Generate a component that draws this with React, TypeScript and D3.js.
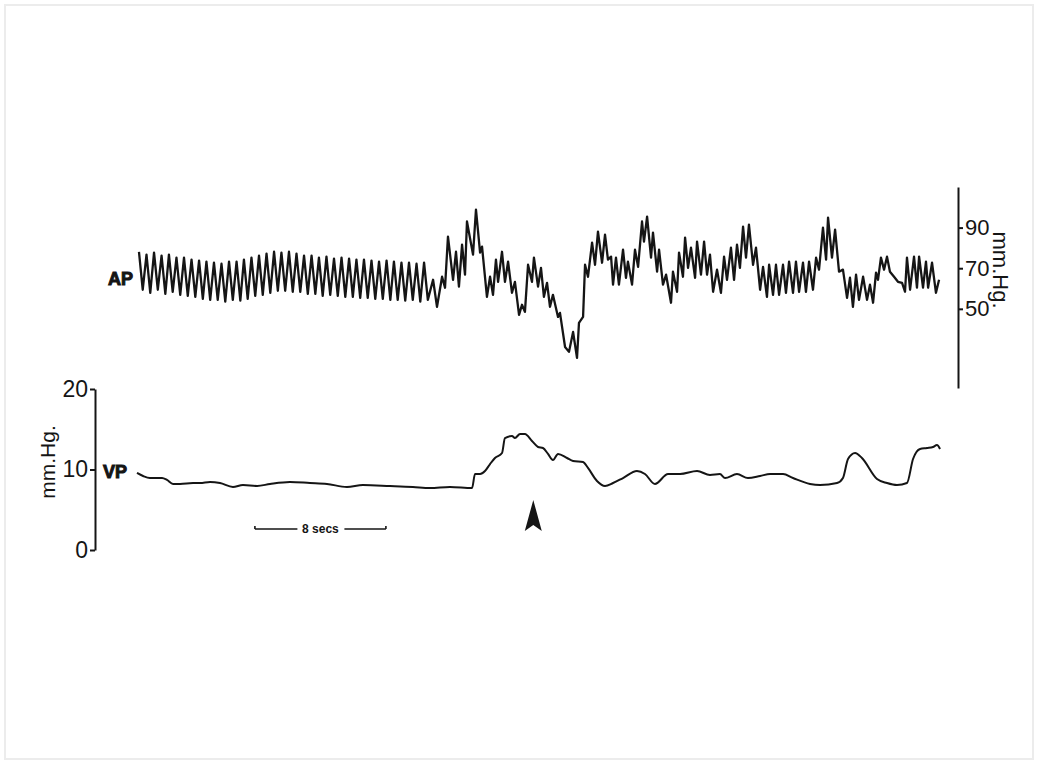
import React, { useRef, useEffect } from 'react';
import * as d3 from 'd3';

// arterial pressure trace, [time (s), mm Hg]
const apTrace: [number, number][] = [
  [0.12, 78.1], [0.35, 59.4], [0.58, 76.7], [0.81, 57.9], [1.04, 77.7], [1.27, 59.4],
  [1.5, 76.2], [1.73, 57.4], [1.95, 76.7], [2.18, 58.4], [2.41, 75.2], [2.64, 56.9],
  [2.87, 75.2], [3.1, 56.4], [3.33, 74.2], [3.56, 55.9], [3.79, 73.7], [4.02, 54.9],
  [4.24, 73.2], [4.47, 54.4], [4.7, 72.7], [4.93, 54.4], [5.16, 72.2], [5.39, 53.5],
  [5.62, 73.2], [5.85, 54.4], [6.08, 73.2], [6.31, 54.0], [6.53, 74.2], [6.76, 54.9],
  [6.99, 75.2], [7.22, 56.4], [7.45, 76.2], [7.68, 56.9], [7.91, 77.2], [8.14, 57.9],
  [8.37, 78.1], [8.6, 58.9], [8.82, 77.7], [9.05, 58.9], [9.28, 78.1], [9.51, 58.4],
  [9.74, 77.2], [9.97, 58.4], [10.2, 76.2], [10.43, 57.4], [10.66, 76.2], [10.89, 57.4],
  [11.11, 75.2], [11.34, 56.4], [11.57, 75.7], [11.8, 56.9], [12.03, 74.7], [12.26, 56.4],
  [12.49, 75.2], [12.72, 55.9], [12.95, 74.7], [13.18, 55.9], [13.4, 74.2], [13.63, 55.4],
  [13.86, 74.2], [14.09, 55.4], [14.32, 73.7], [14.55, 54.9], [14.78, 73.2], [15.01, 54.9],
  [15.24, 73.7], [15.47, 54.4], [15.69, 73.2], [15.92, 54.4], [16.15, 72.7], [16.38, 54.0],
  [16.61, 72.7], [16.84, 54.4], [17.07, 72.2], [17.3, 53.5], [17.53, 72.7], [17.76, 54.4],
  [18.08, 64.3], [18.32, 51.0], [18.63, 65.8], [18.81, 60.4], [18.99, 85.6], [19.3, 64.3],
  [19.48, 78.1], [19.66, 60.9], [19.85, 81.6], [20.03, 66.8], [20.15, 93.0], [20.52, 76.7],
  [20.7, 98.9], [20.95, 77.7], [21.07, 80.6], [21.37, 55.9], [21.56, 65.8], [21.74, 56.9],
  [21.92, 74.2], [22.05, 63.3], [22.29, 78.1], [22.47, 63.3], [22.66, 73.2], [22.9, 57.9],
  [23.08, 63.3], [23.33, 47.0], [23.51, 52.0], [23.69, 48.5], [23.88, 71.7], [24.12, 63.3],
  [24.24, 75.2], [24.49, 60.9], [24.67, 70.2], [24.85, 55.9], [25.04, 62.8], [25.22, 51.0],
  [25.4, 56.9], [25.71, 46.0], [25.83, 48.0], [26.14, 31.2], [26.38, 28.8], [26.63, 38.6],
  [26.87, 25.8], [26.99, 43.1], [27.24, 46.0], [27.36, 71.7], [27.54, 65.8], [27.79, 82.6],
  [27.97, 71.7], [28.15, 88.0], [28.4, 72.7], [28.58, 86.5], [28.76, 74.2], [28.95, 75.7],
  [29.07, 61.9], [29.25, 75.2], [29.43, 61.9], [29.68, 79.1], [29.86, 65.3], [29.98, 73.2],
  [30.23, 61.9], [30.41, 79.1], [30.6, 70.7], [30.84, 93.0], [30.96, 83.1], [31.15, 95.4],
  [31.39, 75.2], [31.51, 87.5], [31.76, 68.3], [31.88, 79.1], [32.12, 61.9], [32.31, 66.8],
  [32.61, 53.0], [32.73, 68.3], [32.98, 58.4], [33.1, 77.7], [33.34, 65.8], [33.47, 85.1],
  [33.65, 70.2], [33.83, 80.1], [34.08, 65.3], [34.2, 83.1], [34.44, 66.8], [34.63, 83.1],
  [34.81, 66.8], [34.99, 76.7], [35.18, 58.4], [35.42, 69.3], [35.66, 57.9], [35.85, 75.7],
  [36.03, 64.3], [36.27, 80.1], [36.46, 64.3], [36.64, 81.6], [36.82, 70.2], [37.01, 90.5],
  [37.19, 75.2], [37.37, 91.5], [37.62, 71.7], [37.8, 80.1], [38.05, 59.4], [38.23, 70.7],
  [38.47, 55.9], [38.6, 71.7], [38.84, 56.9], [39.02, 71.7], [39.21, 56.9], [39.45, 71.7],
  [39.63, 57.9], [39.82, 73.2], [40.06, 57.9], [40.24, 73.2], [40.43, 58.4], [40.67, 72.7],
  [40.85, 58.4], [41.04, 73.2], [41.28, 59.4], [41.47, 75.2], [41.65, 69.3], [41.89, 90.0],
  [42.08, 74.2], [42.2, 94.9], [42.44, 75.2], [42.63, 89.0], [42.87, 68.3], [43.11, 69.3],
  [43.36, 55.4], [43.54, 65.3], [43.72, 51.0], [43.91, 66.8], [44.09, 54.4], [44.34, 65.8],
  [44.58, 54.4], [44.76, 61.9], [44.95, 53.0], [45.13, 67.8], [45.25, 64.3], [45.43, 75.2],
  [45.62, 69.3], [45.8, 75.7], [45.98, 68.3], [46.23, 65.8], [46.47, 63.3], [46.72, 62.8],
  [46.9, 58.4], [47.02, 75.2], [47.21, 59.4], [47.45, 75.7], [47.63, 60.4], [47.76, 75.7],
  [48.0, 60.4], [48.18, 73.2], [48.31, 60.4], [48.55, 72.7], [48.79, 57.9], [48.98, 64.3],
];

// venous pressure trace, [time (s), mm Hg]
const vpTrace: [number, number][] = [
  [0, 9.57], [0.37, 9.19], [0.79, 8.94], [1.22, 8.94], [1.53, 8.94], [1.83, 8.7],
  [2.2, 8.2], [2.63, 8.2], [3.42, 8.32], [3.85, 8.32], [4.46, 8.45], [5.07, 8.32],
  [5.86, 7.83], [6.47, 8.07], [7.33, 7.95], [8.12, 8.2], [9.34, 8.45], [10.56, 8.32],
  [11.6, 8.2], [12.82, 7.83], [13.8, 8.07], [15.45, 7.95], [16.85, 7.83], [17.89, 7.7],
  [19.11, 7.83], [20.46, 7.7], [20.64, 9.44], [20.95, 9.44], [21.25, 9.81], [21.56, 10.68],
  [21.86, 11.43], [22.29, 12.05], [22.47, 13.91], [22.9, 14.16], [23.08, 13.91], [23.39, 14.41],
  [23.69, 14.41], [24.12, 13.54], [24.49, 12.8], [24.79, 12.67], [25.1, 11.93], [25.4, 11.18],
  [25.71, 11.93], [26.26, 11.43], [26.63, 11.06], [27.24, 10.93], [27.54, 10.19], [28.09, 8.57],
  [28.58, 7.95], [29.07, 8.32], [29.68, 8.94], [30.53, 9.81], [31.02, 9.44], [31.63, 8.2],
  [32.43, 9.44], [33.16, 9.44], [34.2, 9.81], [34.99, 9.32], [35.6, 9.44], [35.91, 8.94],
  [36.64, 9.44], [37.31, 8.94], [38.05, 9.19], [38.66, 9.44], [39.45, 9.44], [40.06, 8.94],
  [41.1, 8.2], [41.71, 8.07], [42.75, 8.32], [43.11, 8.94], [43.42, 11.3], [43.85, 12.05],
  [44.27, 11.43], [45.19, 8.82], [45.8, 8.32], [46.41, 8.07], [47.02, 8.32], [47.39, 11.3],
  [47.82, 12.55], [48.24, 12.67], [48.61, 12.8], [48.85, 13.04], [49.04, 12.55],
];

const apTicks = [50, 70, 90];
const vpTicks = [0, 10, 20];
const unitLabel = 'mm.Hg.';
const scaleBarStart = 7.2; // s
const scaleBarLength = 8; // s
const scaleBarLabel = '8 secs';
const arrowTime = 24.2; // s

const W = 1038;
const H = 764;
const font = '"Liberation Sans", Arial, Helvetica, sans-serif';
const ink = '#151515';

function App() {
  const svgRef = useRef<SVGSVGElement>(null);

  useEffect(() => {
    const svg = d3.select(svgRef.current);
    svg.selectAll('*').remove();

    svg.append('rect').attr('width', W).attr('height', H).attr('fill', '#fff');
    svg.append('rect')
      .attr('x', 5).attr('y', 5).attr('width', W - 10).attr('height', H - 10)
      .attr('fill', 'none').attr('stroke', '#ececec').attr('stroke-width', 2);

    const x = d3.scaleLinear().domain([0, 49]).range([137, 939.4]);
    const yAP = d3.scaleLinear().domain([11, 110]).range([388, 187]);
    const yVP = d3.scaleLinear().domain([0, 20]).range([550, 389]);

    // traces
    const apLine = d3.line<[number, number]>().x(d => x(d[0])).y(d => yAP(d[1]));
    svg.append('path')
      .attr('d', apLine(apTrace))
      .attr('fill', 'none')
      .attr('stroke', ink)
      .attr('stroke-width', 2.3)
      .attr('stroke-linejoin', 'round');

    const vpLine = d3.line<[number, number]>()
      .x(d => x(d[0])).y(d => yVP(d[1]))
      .curve(d3.curveMonotoneX);
    svg.append('path')
      .attr('d', vpLine(vpTrace))
      .attr('fill', 'none')
      .attr('stroke', ink)
      .attr('stroke-width', 2)
      .attr('stroke-linejoin', 'round');

    // AP axis (right)
    const apAxis = svg.append('g')
      .attr('transform', 'translate(958,0)')
      .call(d3.axisRight(yAP).tickValues(apTicks).tickSize(5).tickSizeOuter(0).tickPadding(2));
    apAxis.selectAll('path, line').attr('stroke', ink).attr('stroke-width', 2);
    apAxis.selectAll('text')
      .attr('fill', ink)
      .style('font-family', font)
      .style('font-size', '22px');

    svg.append('text')
      .attr('transform', `translate(993,270) rotate(90)`)
      .attr('text-anchor', 'middle')
      .attr('fill', ink)
      .style('font-family', font)
      .style('font-size', '22px')
      .text(unitLabel);

    // VP axis (left)
    const vpAxis = svg.append('g')
      .attr('transform', 'translate(95,0)')
      .call(d3.axisLeft(yVP).tickValues(vpTicks).tickSize(5).tickSizeOuter(0).tickPadding(2));
    vpAxis.selectAll('path, line').attr('stroke', ink).attr('stroke-width', 2);
    vpAxis.selectAll('text')
      .attr('fill', ink)
      .style('font-family', font)
      .style('font-size', '23px');

    svg.append('text')
      .attr('transform', `translate(55,462) rotate(-90)`)
      .attr('text-anchor', 'middle')
      .attr('fill', ink)
      .style('font-family', font)
      .style('font-size', '21px')
      .text(unitLabel);

    // trace labels
    const labelStyle = (t: d3.Selection<SVGTextElement, unknown, null, undefined>) =>
      t.attr('fill', ink)
        .attr('stroke', ink)
        .attr('stroke-width', 1)
        .style('font-family', font)
        .style('font-weight', 900)
        .style('font-size', '18px');
    svg.append('text').attr('x', 108).attr('y', 285).text('AP').call(labelStyle);
    svg.append('text').attr('x', 103).attr('y', 478).text('VP').call(labelStyle);

    // time scale bar
    const x0 = x(scaleBarStart);
    const x1 = x(scaleBarStart + scaleBarLength);
    const mid = (x0 + x1) / 2;
    const barY = 529;
    const bar = svg.append('g').attr('stroke', ink).attr('stroke-width', 1.6);
    bar.append('line').attr('x1', x0).attr('x2', mid - 23).attr('y1', barY).attr('y2', barY);
    bar.append('line').attr('x1', mid + 24).attr('x2', x1).attr('y1', barY).attr('y2', barY);
    bar.append('line').attr('x1', x0).attr('x2', x0).attr('y1', barY - 3).attr('y2', barY);
    bar.append('line').attr('x1', x1).attr('x2', x1).attr('y1', barY - 3).attr('y2', barY);
    svg.append('text')
      .attr('x', mid).attr('y', barY + 4)
      .attr('text-anchor', 'middle')
      .attr('fill', ink)
      .style('font-family', font)
      .style('font-weight', 700)
      .style('font-size', '12px')
      .text(scaleBarLabel);

    // arrowhead marker
    const ax = x(arrowTime);
    svg.append('path')
      .attr('d', `M${ax},500 L${ax + 8.5},531 L${ax},525 L${ax - 8.5},531 Z`)
      .attr('fill', ink);
  }, []);

  return (
    <div style={{ position: 'absolute', left: 0, top: 0 }}>
      <svg ref={svgRef} width={W} height={H} style={{ display: 'block' }}></svg>
    </div>
  );
}

export default App;
